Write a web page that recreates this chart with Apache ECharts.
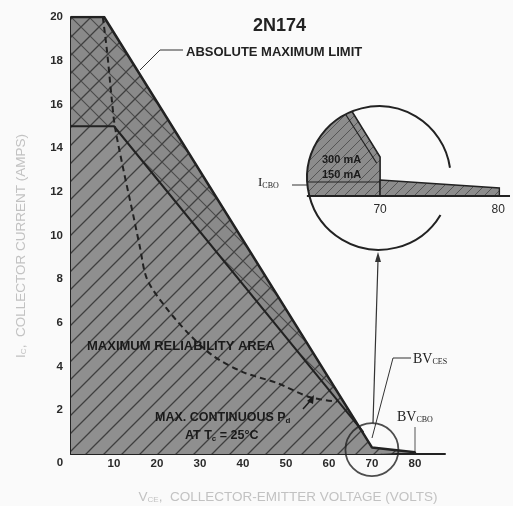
<!DOCTYPE html>
<html><head><meta charset="utf-8">
<script src="https://cdn.jsdelivr.net/npm/echarts@6/dist/echarts.min.js"></script>
<style>html,body{margin:0;padding:0;background:#fafafa}#c{width:513px;height:506px}</style>
</head><body><div id="c"></div>
<script>
// ---- main chart data (V, A) ----
const xTickLabels = [10, 20, 30, 40, 50, 60, 70, 80];
const yTickLabels = [2, 4, 6, 8, 10, 12, 14, 16, 18, 20];
const absoluteMaxLimit = [[0, 20], [7.7, 20], [70, 0.3], [80, 0.08], [80, 0]];
const reliabilityLine = [[0, 15], [10, 15], [68, 1.0]];
const reliabilityArea = [[0, 15], [10, 15], [68, 1.0], [70, 0.3], [80, 0.08], [80, 0]];
const maxContinuousPd = [[7.4, 20], [8.4, 18.4], [9.5, 16.2], [10.2, 15.0], [12.1, 13.1], [14.4, 11.0],
  [16.0, 9.5], [17.7, 8.0], [22.1, 6.7], [27.4, 5.5], [33, 4.5], [40, 3.75], [47.9, 3.25], [55.6, 2.6], [61.9, 2.4]];
const magnifiedSpot = [[70, 0.2]];
// ---- inset (magnified) data (V, mA) ----
const insetTickLabels = [70, 80];
const insetShape = [[63, 0], [63, 850], [67.6, 850], [70, 390], [70, 0]];
const insetStrip = [[70, 160], [80.1, 80], [80.1, 20], [80.1, 0], [70, 0]];
const insetInner = [[66.9, 850], [69.7, 330]];
const insetLevel = [[63, 140], [70, 140]];
const insetBase = [[63.8, 0], [81, 0]];
const insetCircle = { center: [69.9, 180], radiusV: 6.08 };

function hatch(s, cross, bg, fg, lw, fg2, lw2) {
  const c = document.createElement('canvas');
  c.width = c.height = s;
  const g = c.getContext('2d');
  g.fillStyle = bg; g.fillRect(0, 0, s, s);
  g.strokeStyle = fg; g.lineWidth = lw;
  g.beginPath();
  g.moveTo(-s, s); g.lineTo(s, -s);
  g.moveTo(0, s); g.lineTo(s, 0);
  g.moveTo(0, 2 * s); g.lineTo(2 * s, 0);
  g.stroke();
  if (cross) {
    g.strokeStyle = fg2; g.lineWidth = lw2;
    g.beginPath();
    g.moveTo(-s, -s); g.lineTo(2 * s, 2 * s);
    g.moveTo(-s, 0); g.lineTo(s, 2 * s);
    g.moveTo(0, -s); g.lineTo(2 * s, s);
    g.stroke();
  }
  return { image: c, repeat: 'repeat' };
}
const singleHatch = hatch(18, false, '#8f8f8f', '#3f3f3f', 1.3);
const crossHatch = hatch(18, true, '#8a8a8a', '#3f3f3f', 1.3, '#4a4a4a', 1.1);
const insetHatch = hatch(10, false, '#8c8c8c', '#555', 1.0);

const dark = '#222';
const fontB = '"Liberation Sans", Arial, sans-serif';
const serif = '"Liberation Serif", "Times New Roman", serif';

const chart = echarts.init(document.getElementById('c'), null, { renderer: 'canvas' });

const option = {
  backgroundColor: '#fafafa',
  animation: false,
  title: {
    text: '2N174', left: 248, top: 12,
    textStyle: { fontFamily: fontB, fontWeight: 'bold', fontSize: 18, color: dark }
  },
  grid: [
    { left: 71, top: 17, width: 374, height: 437 },
    { left: 262, top: 106, width: 252, height: 90 }
  ],
  xAxis: [
    {
      gridIndex: 0, type: 'value', min: 0, max: 87, interval: 10,
      axisLine: { show: true, lineStyle: { color: dark, width: 2 } },
      axisTick: { show: false }, splitLine: { show: false },
      axisLabel: {
        margin: 4, color: '#2a2a2a', fontWeight: 'bold', fontSize: 11.5, fontFamily: fontB,
        formatter: v => xTickLabels.includes(v) ? String(v) : ''
      }
    },
    {
      gridIndex: 1, type: 'value', min: 60, max: 81, interval: 10,
      axisLine: { show: false },
      axisTick: { show: false }, splitLine: { show: false },
      axisLabel: {
        margin: 8, color: '#2a2a2a', fontSize: 12, fontFamily: fontB,
        formatter: v => insetTickLabels.includes(v) ? String(v) : ''
      }
    }
  ],
  yAxis: [
    {
      gridIndex: 0, type: 'value', min: 0, max: 20, interval: 2,
      axisLine: { show: true, lineStyle: { color: dark, width: 2 } },
      axisTick: { show: false }, splitLine: { show: false },
      axisLabel: {
        margin: 8, color: '#2a2a2a', fontWeight: 'bold', fontSize: 11.5, fontFamily: fontB,
        formatter: v => yTickLabels.includes(v) ? String(v) : ''
      }
    },
    { gridIndex: 1, type: 'value', min: 0, max: 900, show: false, splitLine: { show: false } }
  ],
  series: [
    { type: 'line', xAxisIndex: 0, yAxisIndex: 0, data: absoluteMaxLimit, showSymbol: false, z: 1,
      lineStyle: { width: 0, opacity: 0 }, areaStyle: { color: crossHatch, opacity: 1 } },
    { type: 'line', xAxisIndex: 0, yAxisIndex: 0, data: reliabilityArea, showSymbol: false, z: 2,
      lineStyle: { width: 0, opacity: 0 }, areaStyle: { color: singleHatch, opacity: 1 } },
    { type: 'line', xAxisIndex: 0, yAxisIndex: 0, data: reliabilityLine, showSymbol: false, z: 3,
      lineStyle: { width: 2, color: dark } },
    { type: 'line', xAxisIndex: 0, yAxisIndex: 0, data: absoluteMaxLimit, showSymbol: false, z: 4,
      lineStyle: { width: 2.5, color: dark } },
    { type: 'line', xAxisIndex: 0, yAxisIndex: 0, data: maxContinuousPd, showSymbol: false, z: 4, smooth: 0.3,
      lineStyle: { width: 2, color: dark, type: [6, 4] } },
    { type: 'scatter', xAxisIndex: 0, yAxisIndex: 0, data: magnifiedSpot, symbol: 'circle', symbolSize: 53, z: 5,
      itemStyle: { color: 'rgba(0,0,0,0)', borderColor: dark, borderWidth: 1.8 } },
    { type: 'line', xAxisIndex: 1, yAxisIndex: 1, data: insetBase, showSymbol: false, z: 6, clip: false,
      lineStyle: { width: 1.8, color: dark } },
    {
      type: 'custom', xAxisIndex: 1, yAxisIndex: 1, data: [0], z: 5, clip: false,
      renderItem: function (params, api) {
        const c = api.coord(insetCircle.center);
        const r = api.size([insetCircle.radiusV, 0])[0];
        const clip = { type: 'circle', shape: { cx: c[0], cy: c[1], r: r } };
        const pts = insetShape.map(p => api.coord(p));
        const strip = insetStrip.map(p => api.coord(p));
        const inner = insetInner.map(p => api.coord(p));
        const level = insetLevel.map(p => api.coord(p));
        return {
          type: 'group',
          children: [
            { type: 'polygon', shape: { points: pts }, clipPath: clip,
              style: { fill: insetHatch, stroke: dark, lineWidth: 1.6 } },
            { type: 'polygon', shape: { points: strip },
              style: { fill: insetHatch, stroke: dark, lineWidth: 1.4 } },
            { type: 'polyline', shape: { points: inner }, clipPath: clip,
              style: { fill: null, stroke: dark, lineWidth: 1.2 } },
            { type: 'polyline', shape: { points: level }, clipPath: clip,
              style: { fill: null, stroke: dark, lineWidth: 1.2 } },
            { type: 'arc', shape: { cx: c[0], cy: c[1], r: r, startAngle: 0.54, endAngle: 6.14, clockwise: true },
              style: { fill: null, stroke: dark, lineWidth: 2 } }
          ]
        };
      }
    }
  ],
  graphic: [
    { type: 'text', x: 60, y: 463, style: { text: '0', font: 'bold 11.5px ' + fontB, fill: '#2a2a2a', align: 'center', verticalAlign: 'middle' } },
    { type: 'polyline', shape: { points: [[140, 70], [160, 50], [183, 50]] }, style: { stroke: '#333', lineWidth: 1, fill: null } },
    { type: 'text', x: 186, y: 52, style: { text: 'ABSOLUTE MAXIMUM LIMIT', font: 'bold 13px ' + fontB, fill: dark, align: 'left', verticalAlign: 'middle' } },
    { type: 'text', x: 87, y: 346, z: 10, style: { text: 'MAXIMUM RELIABILITY AREA', font: 'bold 13px ' + fontB, fill: '#1a1a1a', align: 'left', verticalAlign: 'middle' } },
    { type: 'text', x: 155, y: 418, z: 10, style: {
        text: '{a|MAX. CONTINUOUS P}{s|d}', align: 'left', verticalAlign: 'middle',
        rich: { a: { font: 'bold 12.5px ' + fontB, fill: '#1a1a1a' }, s: { font: 'bold 8px ' + fontB, fill: '#1a1a1a', verticalAlign: 'bottom' } } } },
    { type: 'text', x: 185, y: 436, z: 10, style: {
        text: '{a|AT T}{s|c}{a| = 25°C}', align: 'left', verticalAlign: 'middle',
        rich: { a: { font: 'bold 12.5px ' + fontB, fill: '#1a1a1a' }, s: { font: 'bold 8px ' + fontB, fill: '#1a1a1a', verticalAlign: 'bottom' } } } },
    { type: 'polyline', z: 10, shape: { points: [[303, 409], [311, 400]] }, style: { stroke: '#1a1a1a', lineWidth: 1.5, fill: null } },
    { type: 'polygon', z: 10, shape: { points: [[314, 395], [307, 401], [313, 404]] }, style: { fill: '#1a1a1a' } },
    { type: 'polyline', shape: { points: [[372, 438], [393, 358], [411, 358]] }, style: { stroke: '#333', lineWidth: 1, fill: null } },
    { type: 'text', x: 413, y: 359, style: {
        text: '{a|BV}{s|CES}', align: 'left', verticalAlign: 'middle',
        rich: { a: { font: '14px ' + serif, fill: dark }, s: { font: '8px ' + serif, fill: dark, verticalAlign: 'bottom' } } } },
    { type: 'text', x: 397, y: 417, style: {
        text: '{a|BV}{s|CBO}', align: 'left', verticalAlign: 'middle',
        rich: { a: { font: '14px ' + serif, fill: dark }, s: { font: '8px ' + serif, fill: dark, verticalAlign: 'bottom' } } } },
    { type: 'polyline', shape: { points: [[415, 427], [415, 453]] }, style: { stroke: '#555', lineWidth: 1, fill: null } },
    { type: 'polyline', shape: { points: [[373, 423], [378, 260]] }, style: { stroke: '#333', lineWidth: 1.2, fill: null } },
    { type: 'polygon', shape: { points: [[378, 252], [375, 262], [381, 262]] }, style: { fill: '#333' } },
    { type: 'text', x: 258, y: 183, style: {
        text: '{a|I}{s|CBO}', align: 'left', verticalAlign: 'middle',
        rich: { a: { font: '13px ' + serif, fill: dark }, s: { font: '8px ' + serif, fill: dark, verticalAlign: 'bottom' } } } },
    { type: 'polyline', shape: { points: [[292, 185], [308, 185]] }, style: { stroke: '#333', lineWidth: 1, fill: null } },
    { type: 'text', x: 322, y: 160, z: 10, style: { text: '300 mA', font: 'bold 11px ' + fontB, fill: '#1a1a1a', align: 'left', verticalAlign: 'middle' } },
    { type: 'text', x: 322, y: 175, z: 10, style: { text: '150 mA', font: 'bold 11px ' + fontB, fill: '#1a1a1a', align: 'left', verticalAlign: 'middle' } },
    { type: 'text', x: 288, y: 497, style: {
        text: '{a|V}{s|CE}{a|,  COLLECTOR-EMITTER VOLTAGE (VOLTS)}', align: 'center', verticalAlign: 'middle',
        rich: { a: { font: '13.5px ' + fontB, fill: '#c2c2c2' }, s: { font: '8px ' + fontB, fill: '#c2c2c2', verticalAlign: 'bottom' } } } },
    { type: 'text', x: 21, y: 246, rotation: Math.PI / 2, style: {
        text: '{a|I}{s|C}{a|,  COLLECTOR CURRENT (AMPS)}', align: 'center', verticalAlign: 'middle',
        rich: { a: { font: '13.5px ' + fontB, fill: '#c2c2c2' }, s: { font: '8px ' + fontB, fill: '#c2c2c2', verticalAlign: 'bottom' } } } }
  ]
};
chart.setOption(option);
</script></body></html>
